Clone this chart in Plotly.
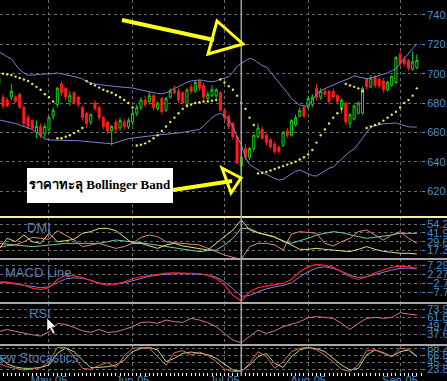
import plotly.graph_objects as go

W, H = 447, 381

# ---------------- data ----------------
day_index = list(range(101))
month_labels = ["May-05", "Jun-05", "Jul-05", "Aug-05", "Sep-05"]
month_start_index = [12, 32, 54, 74, 96]
crosshair_index = 58

opens = [693, 684, 682, 684, 684, 686, 677, 670, 668, 660, 664, 659, 662, 671, 679, 693, 690, 681, 687, 684,
         677, 673, 667, 680, 677, 670, 667, 661, 667, 663, 667, 664, 667, 673, 677, 682, 681, 685, 676, 683,
         675, 684, 689, 688, 687, 679, 691, 688, 695, 692, 683, 685, 685, 687, 675, 671, 666, 657, 637, 649,
         643, 649, 657, 662, 658, 655, 652, 650, 651, 661, 658, 665, 671, 677, 677, 679, 690, 684, 688, 688,
         688, 685, 677, 680, 666, 669, 673, 673, 696, 691, 698, 696, 695, 689, 692, 694, 713, 710, 709, 703, 704]
highs = [700, 686, 684, 693, 685, 687, 678, 672, 669, 668, 666, 666, 671, 677, 691, 695, 691, 688, 688, 685,
         678, 674, 673, 682, 678, 671, 668, 665, 669, 670, 669, 670, 675, 679, 684, 685, 688, 686, 681, 684,
         684, 690, 692, 690, 688, 690, 693, 695, 696, 694, 688, 692, 690, 688, 676, 672, 667, 658, 644, 652,
         650, 659, 666, 664, 659, 656, 654, 651, 661, 663, 669, 672, 677, 679, 685, 686, 693, 690, 690, 689,
         690, 686, 683, 681, 673, 679, 681, 691, 697, 699, 699, 698, 697, 695, 699, 712, 715, 712, 710, 715, 713]
lows = [690, 676, 677, 682, 680, 676, 664, 662, 662, 656, 656, 656, 660, 669, 677, 685, 682, 678, 679, 677,
        668, 663, 665, 675, 668, 662, 659, 651, 660, 661, 662, 662, 665, 671, 675, 677, 679, 675, 675, 672,
        674, 683, 686, 680, 679, 677, 686, 687, 688, 682, 681, 684, 683, 674, 668, 662, 655, 638, 632, 641,
        641, 647, 656, 655, 651, 649, 645, 645, 650, 656, 657, 664, 670, 670, 676, 677, 682, 682, 684, 679,
        683, 679, 673, 665, 663, 668, 672, 672, 689, 690, 690, 690, 687, 688, 691, 693, 705, 705, 702, 702, 703]
closes = [697, 678, 678, 688, 681, 677, 666, 664, 663, 664, 658, 664, 670, 675, 690, 687, 684, 685, 680, 679,
          670, 666, 672, 676, 670, 664, 661, 664, 662, 668, 664, 668, 673, 677, 682, 679, 685, 677, 680, 674,
          683, 688, 687, 682, 680, 689, 688, 694, 690, 684, 686, 689, 689, 675, 670, 664, 657, 639, 643, 643,
          649, 658, 663, 656, 653, 650, 647, 647, 660, 658, 668, 670, 675, 671, 683, 684, 684, 688, 686, 681,
          684, 681, 682, 667, 672, 678, 680, 690, 691, 697, 692, 692, 689, 694, 698, 711, 707, 707, 704, 708, 709]

bb_upper = [715, 713, 711.5, 710, 706, 702.5, 700.5, 699, 699, 699, 699.5, 699.8, 699.8, 700, 700.5, 700, 699.5,
            698.8, 698, 697.3, 696.5, 694.5, 693.5, 693, 692.5, 692, 691.8, 691.5, 691.2, 691, 690.7, 690.4,
            690.2, 689.5, 688.8, 688.2, 687.6, 687, 686.5, 686.2, 687, 688.5, 690, 691.5, 693, 694, 695, 695.5,
            695.7, 695.3, 694.8, 694.4, 695, 696.3, 697, 698, 701, 705, 707, 709, 710.5, 709.5, 707.5, 705.5,
            704.5, 701, 698, 694.5, 691, 687, 683, 680.5, 678.6, 678, 678, 682, 686, 688.5, 690, 691, 692.3,
            693.5, 694.5, 695.5, 697, 698.5, 698, 697.3, 696.5, 697, 697.8, 698.5, 699.3, 700.5, 702, 703.5,
            707, 710.5, 714, 717, 720]
bb_lower = [668.5, 668, 667.5, 667, 666, 665, 664, 663, 662, 660, 658, 655.5, 654.8, 654.8, 654.8, 654.8, 654.8,
            654.7, 654.5, 654.3, 654, 653.7, 653.4, 653, 652.7, 652.4, 652.2, 652.2, 653, 654, 655, 655.7,
            656.1, 656.5, 657, 657.3, 657.7, 658, 658.3, 658.5, 658.7, 659, 659, 659.5, 660, 660.5, 661, 661.5,
            662, 664.5, 667.5, 670, 672, 673, 671, 668.5, 664, 657, 651.5, 643, 638, 636.5, 634.5, 632.5,
            631.5, 630, 628.5, 627.5, 628, 630, 632, 633.5, 634.3, 633, 631.5, 630.5, 630.2, 632, 634, 635.5,
            636.4, 639, 642, 644.5, 647, 648.5, 652, 656, 660, 663.5, 664.5, 665.3, 665.8, 666, 666.2, 666.4,
            665.5, 664.5, 663.8, 663.6, 663.6]
sar = [700, 700, 699.5, 699, 698, 697, 696, 695, 693, 691, 689, 686, 684, 681,
       656, 656, 657, 658, 659.5, 661, 663,
       695, 693, 692, 690.5, 689, 688, 687, 685.5, 684, 682, 680, 677,
       651, 651.5, 652.5, 654, 656, 658, 661, 664, 667, 670, 673, 676, 678, 679, 680, 680.5, 681, 681,
       681.5, 682,
       696, 694, 691.5, 689, 685, 680, 676, 670, 665,
       632, 632.5, 633, 634, 635, 636, 637, 638, 639, 640, 641.5, 643, 645, 648, 653, 658, 662, 666, 670,
       673, 676,
       693, 692, 691, 690, 688,
       663, 664, 665, 666, 668, 670, 672, 674, 677, 680, 682, 685, 690]

ind_index = list(range(0, 101, 2))
dmi_teal = [27.3, 25.9, 24.5, 23.6, 22.7, 23.6, 25.0, 26.4, 27.3, 27.3, 27.3, 27.3, 27.3, 29.6, 32.0, 30.6,
            29.6, 28.2, 26.4, 24.5, 22.7, 20.8, 18.9, 17.1, 15.7, 17.1, 18.0, 25.0, 34.3, 48.2, 48.2, 42.2,
            38.9, 36.6, 29.6, 27.3, 31.0, 34.3, 38.9, 41.3, 43.6, 42.2, 38.9, 36.6, 34.3, 35.7, 36.6, 38.9,
            41.3, 41.3, 41.3]
dmi_pink = [22.7, 23.6, 25.0, 29.6, 35.7, 34.3, 32.9, 45.0, 38.9, 32.0, 22.7, 25.0, 27.3, 23.6, 20.3, 22.7,
            27.3, 35.7, 38.9, 36.6, 29.6, 28.2, 27.3, 26.4, 25.0, 20.3, 15.7, 11.0, 7.8, 5.0, 22.7, 27.3,
            27.3, 25.0, 18.0, 40.3, 43.6, 42.2, 41.3, 27.3, 23.6, 29.6, 34.3, 43.6, 45.9, 38.9, 32.0, 38.9,
            43.6, 34.3, 27.3]
dmi_yellow = [18.9, 34.3, 29.6, 38.9, 29.6, 27.3, 41.3, 29.6, 31.0, 32.9, 41.3, 43.6, 48.2, 48.2, 45.0, 36.6,
              27.3, 27.3, 23.6, 20.3, 25.0, 27.3, 23.6, 21.7, 18.9, 18.0, 27.3, 36.6, 45.9, 59.9, 45.9, 42.2,
              38.9, 35.7, 31.0, 25.0, 18.9, 18.9, 20.3, 18.9, 18.0, 17.1, 15.7, 18.9, 22.7, 18.9, 16.1, 14.7,
              13.4, 13.4, 12.4]
macd_line = [-2.0, -2.2, -2.9, -3.9, -5.5, -6.3, -5.2, -0.7, 1.5, 1.3, 0.4, -1.4, -2.9, -3.9, -3.3, -2.0,
             -0.3, 0.8, 1.5, 2.3, 2.8, 3.0, 3.0, 2.8, 2.6, 1.5, -0.1, -3.9, -9.4, -12.6, -7.6, -5.2, -4.4,
             -3.7, -2.9, -0.7, 3.6, 6.4, 7.7, 7.1, 6.0, 3.6, 0.8, -0.7, 0.8, 3.0, 4.5, 6.0, 6.7, 6.4, 5.4]
macd_signal = [-2.0, -2.4, -3.3, -4.0, -4.8, -5.2, -4.8, -2.6, -0.3, 0.2, -0.1, -1.1, -2.6, -3.3, -3.3, -2.6,
               -1.3, 0.0, 1.0, 1.7, 2.3, 2.5, 2.5, 2.5, 2.3, 1.7, 0.6, -2.0, -5.7, -10.0, -9.6, -7.6, -5.9,
               -4.8, -4.0, -2.6, 0.8, 3.6, 5.6, 6.4, 5.4, 3.8, 1.7, 0.4, 0.8, 2.1, 3.4, 4.5, 5.4, 5.6, 5.1]
rsi = [41.3, 44.6, 41.8, 38.9, 37.0, 35.1, 41.3, 53.3, 51.8, 47.5, 42.7, 40.3, 44.6, 40.3, 41.3, 44.6, 48.5,
       54.7, 55.2, 53.3, 58.1, 55.7, 54.7, 60.5, 58.1, 54.2, 48.5, 38.9, 29.3, 25.5, 34.1, 43.7, 38.9, 42.7,
       48.5, 52.3, 55.7, 61.4, 62.9, 61.9, 60.5, 53.3, 44.6, 53.3, 60.5, 61.9, 60.5, 61.9, 68.6, 66.7, 65.3]
stoch_k = [41.2, 31.0, 25.9, 20.8, 23.9, 27.9, 46.4, 90.3, 90.3, 61.7, 25.9, 22.8, 35.1, 43.3, 29.0, 63.7,
           87.3, 89.3, 87.3, 61.7, 36.1, 74.0, 80.1, 66.8, 76.0, 65.8, 46.4, 23.9, 15.7, 16.0, 41.2, 77.0,
           61.7, 25.9, 46.4, 77.0, 87.3, 90.3, 82.2, 65.8, 46.4, 22.8, 16.7, 36.1, 80.1, 82.2, 71.9, 61.7,
           87.3, 84.2, 63.7]
stoch_d = [61.7, 39.2, 30.0, 25.9, 25.9, 29.0, 36.1, 71.9, 88.3, 77.0, 51.5, 27.9, 29.0, 31.0, 36.1, 51.5,
           77.0, 87.3, 90.3, 82.2, 46.4, 56.6, 71.9, 76.0, 71.9, 67.8, 56.6, 39.2, 20.8, 17.0, 36.1, 61.7,
           71.9, 41.2, 29.0, 61.7, 82.2, 90.3, 86.2, 77.0, 56.6, 36.1, 20.8, 25.9, 66.8, 82.2, 74.0, 61.7,
           77.0, 82.2, 61.7]

price_ticks = [620, 640, 660, 680, 700, 720, 740]
dmi_ticks = [17.32, 29.64, 41.96, 54.28]
macd_ticks = [-7.76, -2.74, 2.27, 7.29]
rsi_ticks = [37.67, 49.75, 61.82, 73.90]
stoch_ticks = [23.86, 45.34, 66.81, 88.29]

annotation_text = "ราคาทะลุ Bollinger Band"
panel_titles = ["DMI", "MACD Line", "RSI", "New Stocastics"]

# ---------------- styling helpers ----------------
LABEL = "#4b8fcf"
TITLE = "#5b80b4"
GRID = "#6c6c6c"


def px(x):
    return x / W


def py(y):
    return 1 - y / H


fig = go.Figure()

fig.add_trace(go.Candlestick(
    x=day_index, open=opens, high=highs, low=lows, close=closes,
    xaxis="x", yaxis="y", hoverinfo="skip",
    increasing=dict(line=dict(color="#19d019", width=1), fillcolor="black"),
    decreasing=dict(line=dict(color="#ff1a1a", width=1), fillcolor="#ff1a1a"),
))
fig.add_trace(go.Scatter(x=day_index, y=bb_upper, mode="lines", yaxis="y",
                         line=dict(color="#7e7ed6", width=1)))
fig.add_trace(go.Scatter(x=day_index, y=bb_lower, mode="lines", yaxis="y",
                         line=dict(color="#7e7ed6", width=1)))
fig.add_trace(go.Scatter(x=day_index, y=sar, mode="markers", yaxis="y",
                         marker=dict(color="#e8e85a", size=2.4, line=dict(width=0))))

fig.add_trace(go.Scatter(x=ind_index, y=dmi_teal, mode="lines", yaxis="y2",
                         line=dict(color="#6fcfb0", width=1)))
fig.add_trace(go.Scatter(x=ind_index, y=dmi_pink, mode="lines", yaxis="y2",
                         line=dict(color="#e08a80", width=1)))
fig.add_trace(go.Scatter(x=ind_index, y=dmi_yellow, mode="lines", yaxis="y2",
                         line=dict(color="#e6e070", width=1)))

fig.add_trace(go.Scatter(x=ind_index, y=macd_signal, mode="lines", yaxis="y3",
                         line=dict(color="#7f7fe8", width=1)))
fig.add_trace(go.Scatter(x=ind_index, y=macd_line, mode="lines", yaxis="y3",
                         line=dict(color="#ff2020", width=1.2)))

fig.add_trace(go.Scatter(x=ind_index, y=rsi, mode="lines", yaxis="y4",
                         line=dict(color="#d87878", width=1)))

fig.add_trace(go.Scatter(x=ind_index, y=stoch_d, mode="lines", yaxis="y5",
                         line=dict(color="#a8e080", width=1)))
fig.add_trace(go.Scatter(x=ind_index, y=stoch_k, mode="lines", yaxis="y5",
                         line=dict(color="#e06a58", width=1)))


def yax(domain, rng, tickvals):
    return dict(domain=domain, range=rng, side="right", anchor="x",
                tickmode="array", tickvals=tickvals, tickformat=".2f",
                ticks="outside", ticklen=3, tickcolor=LABEL,
                tickfont=dict(family="Liberation Sans", size=11, color=LABEL),
                showgrid=True, gridcolor=GRID, griddash="3px,3px", gridwidth=1,
                zeroline=False, showline=False, fixedrange=True, automargin=False)


fig.update_layout(
    width=W, height=H,
    margin=dict(l=0, r=0, t=0, b=0),
    paper_bgcolor="black", plot_bgcolor="black",
    showlegend=False, hovermode=False,
    xaxis=dict(domain=[0, 421 / W], range=[0.28, 101], anchor="y5",
               tickmode="array", tickvals=month_start_index, ticktext=month_labels,
               ticks="outside", ticklen=3, tickcolor="white", ticklabelstandoff=-5,
               tickfont=dict(family="Liberation Sans", size=11, color=LABEL),
               showgrid=True, gridcolor=GRID, griddash="3px,3px", gridwidth=1,
               zeroline=False, showline=False, fixedrange=True, automargin=False,
               rangeslider=dict(visible=False),
               minor=dict(ticks="outside", tickmode="linear", tick0=0, dtick=1,
                          ticklen=3, tickcolor="white", showgrid=False)),
    yaxis=yax([1 - 217 / H, 1], [602.3, 750.2], price_ticks),
    yaxis2=yax([1 - 259 / H, 1 - 217 / H], [5.4, 64.1], dmi_ticks),
    yaxis3=yax([1 - 303 / H, 1 - 259 / H], [-13.73, 10.64], macd_ticks),
    yaxis4=yax([1 - 345 / H, 1 - 303 / H], [22.3, 82.5], rsi_ticks),
    yaxis5=yax([1 - 372 / H, 1 - 345 / H], [14.7, 97.5], stoch_ticks),
)

shapes = []
# panel separators
shapes.append(dict(type="line", xref="paper", yref="paper", x0=0, x1=1, y0=py(217), y1=py(217),
                   line=dict(color="#f4f0a0", width=2), layer="above"))
for yy in (259, 303, 345):
    shapes.append(dict(type="line", xref="paper", yref="paper", x0=0, x1=1, y0=py(yy), y1=py(yy),
                       line=dict(color="#a8a8a8", width=2), layer="above"))
# crosshair
shapes.append(dict(type="line", xref="x", yref="paper", x0=crosshair_index, x1=crosshair_index,
                   y0=py(376), y1=1, line=dict(color="#a0a0a0", width=1.5), layer="above"))
# white label box
shapes.append(dict(type="rect", xref="paper", yref="paper", x0=px(27), x1=px(173), y0=py(203), y1=py(168),
                   fillcolor="white", line=dict(width=0), layer="above"))
# yellow arrows
YEL = "#ffff10"
shapes.append(dict(type="line", xref="paper", yref="paper", x0=px(122), y0=py(20), x1=px(214), y1=py(40),
                   line=dict(color=YEL, width=4), layer="above"))
shapes.append(dict(type="path", xref="paper", yref="paper",
                   path=f"M {px(217)},{py(21)} L {px(243)},{py(44)} L {px(208)},{py(54)} Z",
                   line=dict(color=YEL, width=3), fillcolor="rgba(0,0,0,0)", layer="above"))
shapes.append(dict(type="line", xref="paper", yref="paper", x0=px(173), y0=py(190), x1=px(232), y1=py(181),
                   line=dict(color=YEL, width=4), layer="above"))
shapes.append(dict(type="path", xref="paper", yref="paper",
                   path=f"M {px(222)},{py(168)} L {px(241)},{py(178)} L {px(231)},{py(193)} Z",
                   line=dict(color=YEL, width=3), fillcolor="rgba(0,0,0,0)", layer="above"))
# mouse pointer
shapes.append(dict(type="path", xref="paper", yref="paper",
                   path=(f"M {px(47)},{py(318)} L {px(47)},{py(331)} L {px(50)},{py(328)} "
                         f"L {px(53)},{py(334)} L {px(55)},{py(333)} L {px(52)},{py(327)} "
                         f"L {px(56)},{py(327)} Z"),
                   fillcolor="white", line=dict(color="black", width=0.5), layer="above"))
fig.update_layout(shapes=shapes)

annotations = [
    dict(text=f"<b>{annotation_text}</b>", xref="paper", yref="paper", x=px(100), y=py(185),
         xanchor="center", yanchor="middle", showarrow=False,
         font=dict(family="Liberation Serif, DejaVu Serif, serif", size=13, color="black")),
    dict(text=panel_titles[0], xref="paper", yref="paper", x=px(25), y=py(227), xanchor="left",
         yanchor="middle", showarrow=False, font=dict(family="Liberation Sans", size=13, color=TITLE)),
    dict(text=panel_titles[1], xref="paper", yref="paper", x=px(3), y=py(272), xanchor="left",
         yanchor="middle", showarrow=False, font=dict(family="Liberation Sans", size=13, color=TITLE)),
    dict(text=panel_titles[2], xref="paper", yref="paper", x=px(27), y=py(313), xanchor="left",
         yanchor="middle", showarrow=False, font=dict(family="Liberation Sans", size=13, color=TITLE)),
    dict(text=panel_titles[3], xref="paper", yref="paper", x=px(81), y=py(357), xanchor="right",
         yanchor="middle", showarrow=False, font=dict(family="Liberation Sans", size=13, color=TITLE)),
]
fig.update_layout(annotations=annotations)

fig.write_html("out.html", config=dict(displayModeBar=False, staticPlot=True))
